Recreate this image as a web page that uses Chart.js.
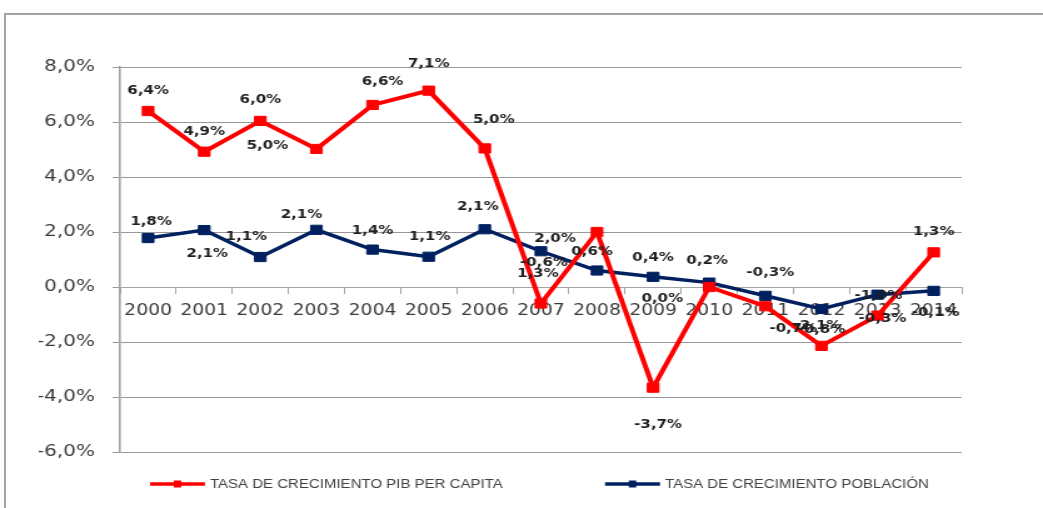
<!DOCTYPE html>
<html>
<head>
<meta charset="utf-8">
<script src="https://cdn.jsdelivr.net/npm/chart.js@4/dist/chart.umd.min.js"></script>
<style>
  html, body { margin: 0; padding: 0; background: #ffffff; overflow: hidden; width: 1043px; height: 508px; }
  #frame { position: absolute; left: 4px; top: 13px; width: 1200px; height: 700px;
           border-left: 2px solid #a3a3a3; border-top: 2px solid #a3a3a3; box-sizing: border-box; }
  #c { position: absolute; left: 0; top: 0; transform-origin: 0 0; }
</style>
</head>
<body>
<div id="frame"></div>
<canvas id="c" width="834" height="508"></canvas>
<script>
// ---- data ----
const years = ["2000","2001","2002","2003","2004","2005","2006","2007","2008","2009","2010","2011","2012","2013","2014"];
const pibPerCapita = [6.4, 4.92, 6.04, 5.02, 6.62, 7.14, 5.04, -0.6, 2.0, -3.66, 0.0, -0.7, -2.14, -1.04, 1.26];
const poblacion = [1.78, 2.07, 1.09, 2.08, 1.36, 1.1, 2.1, 1.3, 0.6, 0.37, 0.16, -0.32, -0.8, -0.28, -0.14];
const seriesNames = ["TASA DE CRECIMIENTO PIB PER CAPITA", "TASA DE CRECIMIENTO POBLACIÓN"];
const yMin = -6, yMax = 8, yStep = 2;

// ---- layout / style ----
const S = 1043 / 834; // horizontal stretch of the original picture
const canvas = document.getElementById('c');
canvas.style.transform = 'scaleX(' + S + ')';

const fmt = v => v.toFixed(1).replace('.', ',') + '%';

// label offsets in screen px [dx, dy] from the point
const labelOffsets = [
  [[0,-20],[0,-20],[0,-21],[-49,-3],[10,-23],[0,-27],[9,-29],[3,-41],[-42,7],[5,37],[-47,12],[28,23],[-4,-20],[1,-20],[0,-20]],
  [[3,-16],[3,24],[-14,-20],[-15,-15],[0,-19],[1,-20],[-7,-22],[-3,23],[-5,-19],[0,-19],[-2,-22],[5,-23],[0,21],[5,24],[2,22]]
];

const pointLabels = {
  id: 'pointLabels',
  afterDatasetsDraw(chart) {
    const ctx = chart.ctx;
    ctx.save();
    ctx.font = 'bold 12px "DejaVu Sans"';
    ctx.fillStyle = '#1e1e1e';
    ctx.textAlign = 'center';
    ctx.textBaseline = 'middle';
    chart.data.datasets.forEach((ds, di) => {
      const meta = chart.getDatasetMeta(di);
      meta.data.forEach((pt, i) => {
        const o = labelOffsets[di][i];
        ctx.fillText(fmt(ds.data[i]), pt.x + o[0] / S, pt.y + o[1]);
      });
    });
    ctx.restore();
  }
};

const bottomLegend = {
  id: 'bottomLegend',
  afterDraw(chart) {
    const ctx = chart.ctx;
    const y = 484;
    const starts = [150 / S, 605 / S];
    const lineLen = 55 / S;
    ctx.save();
    chart.data.datasets.forEach((ds, di) => {
      const x0 = starts[di];
      ctx.strokeStyle = ds.borderColor;
      ctx.lineWidth = 3.5;
      ctx.beginPath();
      ctx.moveTo(x0, y);
      ctx.lineTo(x0 + lineLen, y);
      ctx.stroke();
      ctx.fillStyle = ds.borderColor;
      ctx.fillRect(x0 + lineLen / 2 - 3, y - 3.5, 6, 7);
      ctx.fillStyle = '#404040';
      ctx.font = '12px "Liberation Sans"';
      ctx.textAlign = 'left';
      ctx.textBaseline = 'middle';
      ctx.fillText(ds.label, x0 + lineLen + 5 / S, y + 0.5);
    });
    ctx.restore();
  }
};

new Chart(canvas, {
  type: 'line',
  data: {
    labels: years,
    datasets: [
      {
        label: seriesNames[0],
        data: pibPerCapita,
        borderColor: '#ff0000',
        backgroundColor: '#ff0000',
        borderWidth: 4,
        pointStyle: 'rect',
        pointRadius: 6.5,
        pointBorderWidth: 1,
        pointBackgroundColor: '#ff0000',
        pointBorderColor: '#ff0000',
        tension: 0
      },
      {
        label: seriesNames[1],
        data: poblacion,
        borderColor: '#002060',
        backgroundColor: '#002060',
        borderWidth: 3.5,
        pointStyle: 'rect',
        pointRadius: 6.5,
        pointBorderWidth: 1,
        pointBackgroundColor: '#002060',
        pointBorderColor: '#002060',
        tension: 0
      }
    ]
  },
  options: {
    responsive: false,
    maintainAspectRatio: false,
    devicePixelRatio: 1,
    animation: false,
    layout: { padding: { left: 31, right: 65, top: 67, bottom: 56 } },
    plugins: {
      legend: { display: false },
      tooltip: { enabled: false },
      title: { display: false }
    },
    scales: {
      y: {
        min: yMin, max: yMax,
        ticks: {
          stepSize: yStep,
          callback: v => fmt(v),
          font: { family: '"DejaVu Sans"', size: 16 },
          color: '#3a3a3a',
          padding: 14
        },
        grid: { color: '#979797', lineWidth: 1, tickLength: 6, drawTicks: true },
        border: { color: '#a3a3a3', width: 1.6 },
        afterFit(scale) { scale.width = 65; }
      },
      x: {
        position: { y: 0 },
        offset: true,
        ticks: {
          font: { family: '"DejaVu Sans"', size: 15 },
          color: '#3a3a3a',
          padding: 9,
          autoSkip: false,
          maxRotation: 0
        },
        grid: { offset: true, drawOnChartArea: false, drawTicks: true, tickLength: 6, color: '#a3a3a3' },
        border: { color: '#a3a3a3', width: 1 },
        afterFit(scale) { scale.height = 0; }
      }
    }
  },
  plugins: [pointLabels, bottomLegend]
});
</script>
</body>
</html>
